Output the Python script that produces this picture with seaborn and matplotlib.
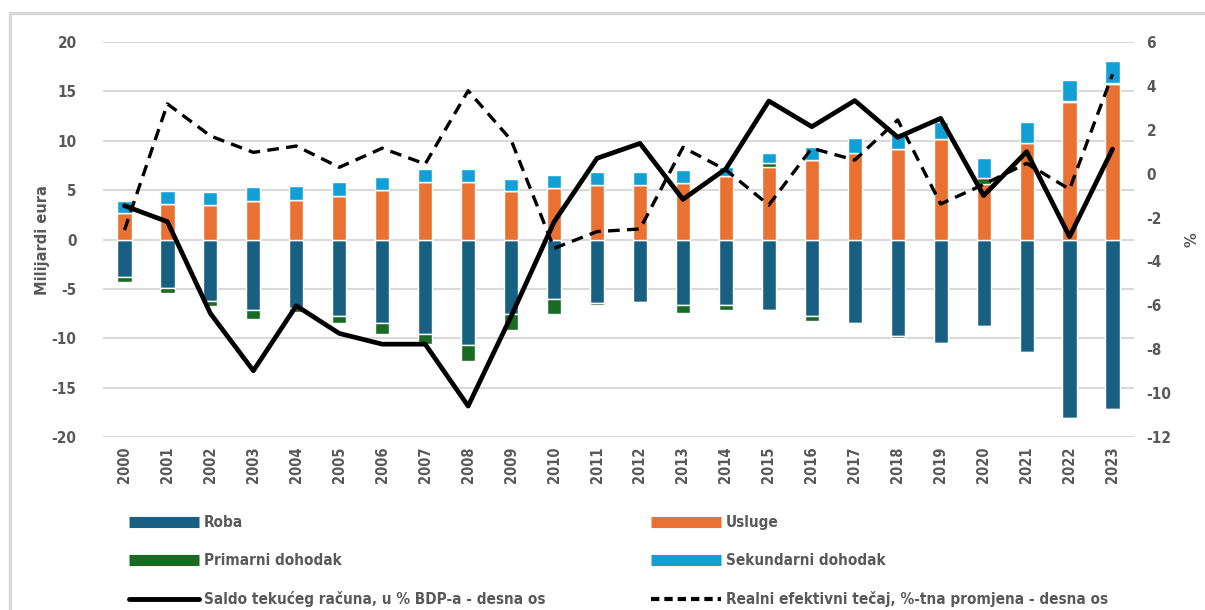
import numpy as np
import pandas as pd
import matplotlib
matplotlib.use("Agg")
import matplotlib.pyplot as plt
import seaborn as sns
from matplotlib.lines import Line2D
from matplotlib.patches import Rectangle

years = [str(y) for y in range(2000, 2024)]
roba = [-3.8, -4.9, -6.2, -7.1, -6.9, -7.7, -8.5, -9.6, -10.7, -7.5, -6.0, -6.4,
        -6.3, -6.6, -6.6, -7.1, -7.7, -8.5, -9.8, -10.5, -8.8, -11.4, -18.1, -17.2]
usluge = [2.7, 3.6, 3.5, 3.9, 4.0, 4.4, 5.0, 5.8, 5.8, 4.9, 5.2, 5.5,
          5.5, 5.7, 6.4, 7.3, 8.1, 8.8, 9.2, 10.2, 5.6, 9.8, 13.9, 15.7]
primarni = [-0.5, -0.5, -0.5, -1.0, -0.4, -0.8, -1.1, -1.0, -1.6, -1.7, -1.5, -0.2,
            -0.15, -0.8, -0.5, 0.4, -0.6, -0.05, -0.15, -0.05, 0.6, 0.0, 0.15, 0.15]
sekundarni = [1.15, 1.3, 1.3, 1.4, 1.4, 1.4, 1.3, 1.3, 1.3, 1.2, 1.3, 1.3,
              1.3, 1.3, 0.9, 1.05, 1.3, 1.45, 1.5, 1.65, 2.1, 2.1, 2.1, 2.25]
saldo = [-1.46, -2.19, -6.37, -8.98, -6.02, -7.28, -7.77, -7.77, -10.59, -6.5, -2.2, 0.7,
         1.38, -1.17, 0.22, 3.31, 2.14, 3.33, 1.66, 2.52, -1.0, 1.0, -2.87, 1.12]
reer = [-2.57, 3.18, 1.72, 0.97, 1.26, 0.29, 1.16, 0.44, 3.78, 1.53, -3.4, -2.64,
        -2.52, 1.2, 0.17, -1.43, 1.16, 0.62, 2.45, -1.38, -0.49, 0.47, -0.71, 4.53]

labels = ["Roba", "Usluge", "Primarni dohodak", "Sekundarni dohodak",
          "Saldo tekućeg računa, u % BDP-a - desna os",
          "Realni efektivni tečaj, %-tna promjena - desna os"]
colors = {"Roba": "#186082", "Usluge": "#E97132",
          "Primarni dohodak": "#196B24", "Sekundarni dohodak": "#10A0D6"}

sns.set_theme(style="white")
plt.rcParams['font.family'] = ['DejaVu Sans']
plt.rcParams['font.stretch'] = 'condensed'
plt.rcParams['axes.unicode_minus'] = False
gray = "#595959"

df = pd.DataFrame({"year": years, "roba": roba, "usluge": usluge,
                   "primarni": primarni, "sekundarni": sekundarni,
                   "saldo": saldo, "reer": reer})
pos = np.arange(len(years))
df["pos"] = pos

fig = plt.figure(figsize=(12.05, 6.10), dpi=100)
fig.patch.set_facecolor("white")
fig.add_artist(Rectangle((10/1205, -0.05), 1.1, (0.05 + 1 - 13/610),
                         transform=fig.transFigure, fill=False,
                         edgecolor="#d9d9d9", linewidth=2.5))

ax = fig.add_axes([103/1205, 1 - 437/610, (1134 - 103)/1205, (437 - 42)/610])
ax2 = ax.twinx()

w = 0.33
prim = np.array(primarni)
usl = np.array(usluge)
rob = np.array(roba)
sek = np.array(sekundarni)
prim_pos = np.where(prim > 0, prim, 0)
prim_neg = np.where(prim < 0, prim, 0)

ax.bar(pos, rob, width=w, color=colors["Roba"], zorder=2)
ax.bar(pos, prim_neg, bottom=rob, width=w, color=colors["Primarni dohodak"], zorder=2)
ax.bar(pos, usl, width=w, color=colors["Usluge"], zorder=2)
ax.bar(pos, prim_pos, bottom=usl, width=w, color=colors["Primarni dohodak"], zorder=2)
ax.bar(pos, sek, bottom=usl + prim_pos, width=w, color=colors["Sekundarni dohodak"], zorder=2)

ax.set_ylim(-20, 20)
ax.set_yticks(np.arange(-20, 21, 5))
ax.set_xlim(-0.5, len(years) - 0.5)
ax.set_xticks(pos)
ax.set_xticklabels(years, rotation=90, fontsize=10.5, fontweight="bold", color=gray)
ax.yaxis.grid(True, color="#d9d9d9", linewidth=1.5, zorder=0)
ax.set_axisbelow(True)
ax.tick_params(axis="y", labelsize=11, labelcolor=gray, length=0, pad=19)
ax.tick_params(axis="x", length=0, pad=7)
for lbl in ax.get_yticklabels():
    lbl.set_fontweight("bold")
ax.set_ylabel("")
for s in ax.spines.values():
    s.set_visible(False)

fig.text(42/1205, 1 - 240/610, "Milijardi eura", rotation=90, ha="center", va="center",
         fontsize=10.5, fontweight="bold", color=gray, fontstretch="normal")

sns.lineplot(data=df, x="pos", y="saldo", ax=ax2, color="black", linewidth=3.4,
             zorder=3, legend=False)
sns.lineplot(data=df, x="pos", y="reer", ax=ax2, color="black", linewidth=2.4,
             linestyle=(0, (3.5, 2.2)), zorder=3, legend=False)
ax2.set_ylim(-12, 6)
ax2.set_yticks(np.arange(-12, 7, 2))
ax2.tick_params(axis="y", labelsize=11, labelcolor=gray, length=0, pad=9)
for lbl in ax2.get_yticklabels():
    lbl.set_fontweight("bold")
ax2.set_ylabel("")
ax2.set_xlabel("")
ax.set_xlabel("")
for s in ax2.spines.values():
    s.set_visible(False)
ax2.grid(False)

fig.text(1192/1205, 1 - 240/610, "%", rotation=90, ha="center", va="center",
         fontsize=10.5, fontweight="bold", color=gray, fontstretch="normal")

def patch_handle(c):
    return Line2D([0], [0], color=c, linewidth=8, solid_capstyle="butt")

h_left = [patch_handle(colors["Roba"]), patch_handle(colors["Primarni dohodak"]),
          Line2D([0], [0], color="black", linewidth=3.5, solid_capstyle="round")]
l_left = [labels[0], labels[2], labels[4]]
h_right = [patch_handle(colors["Usluge"]), patch_handle(colors["Sekundarni dohodak"]),
           Line2D([0], [0], color="black", linewidth=3, linestyle=(0, (2, 1.2)))]
l_right = [labels[1], labels[3], labels[5]]

leg_kw = dict(frameon=False, handlelength=4.6, handletextpad=0.3,
              labelspacing=1.52, borderpad=0, borderaxespad=0,
              prop={"size": 11, "weight": "bold", "stretch": "condensed"},
              labelcolor=gray, loc="upper left")
fig.legend(h_left, l_left, bbox_to_anchor=(129/1205, 1 - 515/610), **leg_kw)
fig.legend(h_right, l_right, bbox_to_anchor=(651/1205, 1 - 515/610), **leg_kw)

fig.savefig("out.png", dpi=100, facecolor="white")
